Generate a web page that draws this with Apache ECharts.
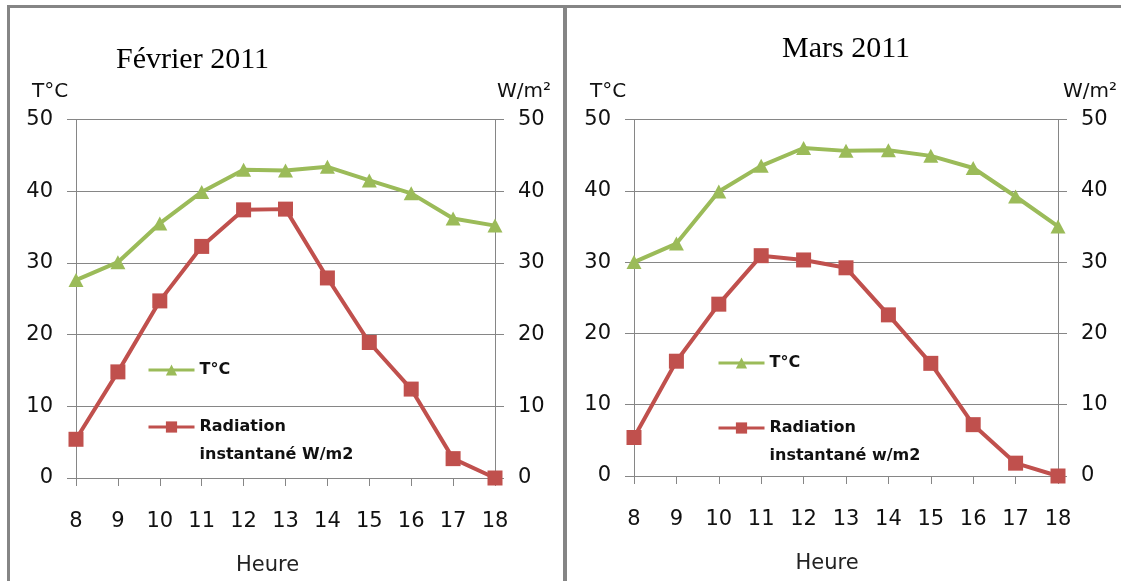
<!DOCTYPE html>
<html>
<head>
<meta charset="utf-8">
<title>Température et radiation – Février / Mars 2011</title>
<script src="https://cdn.jsdelivr.net/npm/echarts@6/dist/echarts.min.js"></script>
<style>
  html, body { margin: 0; padding: 0; background: #ffffff; }
  #wrap { position: relative; width: 1121px; height: 581px; overflow: hidden; }
  .panel { position: absolute; box-sizing: border-box; border: 0 solid #858585; }
  #p1 { left: 7px; top: 5px; width: 558px; height: 600px; border-left-width: 3px; border-top-width: 3px; border-right-width: 2px; }
  #p2 { left: 565px; top: 5px; width: 600px; height: 600px; border-left-width: 2px; border-top-width: 3px; }
  #chart { position: absolute; left: 0; top: 0; width: 1121px; height: 581px; }
</style>
</head>
<body>
<div id="wrap">
  <div class="panel" id="p1"></div>
  <div class="panel" id="p2"></div>
  <div id="chart"></div>
</div>
<script>
// Hours of the day (category axis)
const hours = ['8', '9', '10', '11', '12', '13', '14', '15', '16', '17', '18'];

// February 2011
const tempFev = [27.6, 30.1, 35.5, 39.9, 43.0, 42.9, 43.4, 41.5, 39.7, 36.2, 35.2];
const radFev  = [5.4, 14.8, 24.7, 32.3, 37.4, 37.5, 27.9, 18.9, 12.4, 2.7, 0];

// March 2011
const tempMars = [30.0, 32.6, 39.9, 43.5, 46.0, 45.6, 45.7, 44.9, 43.2, 39.2, 35.0];
const radMars  = [5.4, 16.1, 24.1, 30.9, 30.3, 29.2, 22.6, 15.8, 7.2, 1.8, 0];

// Shared value scale for both vertical axes
const yMin = 0, yMax = 50, yStep = 10;

const panelTitles = ['Février 2011', 'Mars 2011'];
const radNames = ['Radiation\ninstantané W/m2', 'Radiation\ninstantané w/m2'];
const tempName = 'T°C';

const GREEN = '#9bbb59';
const RED = '#c0504d';
const GRAY = '#868686';
const SANS = 'DejaVu Sans';

const chart = echarts.init(document.getElementById('chart'), null, { renderer: 'canvas' });

function xAxisFor(gridIndex, padRight) {
  return {
    type: 'category',
    gridIndex,
    data: hours,
    boundaryGap: false,
    name: 'Heure',
    nameLocation: 'middle',
    nameGap: 77,
    nameTextStyle: { fontFamily: SANS, fontSize: 21, color: '#222', padding: [0, padRight, 0, 0] },
    axisLine: { lineStyle: { color: GRAY, width: 1 } },
    axisTick: { show: true, length: 8, lineStyle: { color: GRAY } },
    axisLabel: { margin: 33, fontFamily: SANS, fontSize: 21, color: '#111' },
    splitLine: { show: false }
  };
}

function yAxisFor(gridIndex, position, unit, pad) {
  return {
    type: 'value',
    gridIndex,
    position,
    min: yMin,
    max: yMax,
    interval: yStep,
    name: unit,
    nameLocation: 'end',
    nameGap: 18,
    nameTextStyle: { fontFamily: SANS, fontSize: 20, color: '#111', padding: pad },
    axisLine: { show: true, lineStyle: { color: GRAY, width: 1 } },
    axisTick: { show: true, length: 9, lineStyle: { color: GRAY } },
    axisLabel: { margin: 23, fontFamily: SANS, fontSize: 21, color: '#111' },
    splitLine: { show: position === 'left', lineStyle: { color: GRAY, width: 1 } }
  };
}

function tempSeries(data, xi, yi) {
  return {
    name: tempName,
    type: 'line',
    xAxisIndex: xi,
    yAxisIndex: yi,
    data,
    symbol: 'triangle',
    symbolSize: [15, 14],
    lineStyle: { color: GREEN, width: 4 },
    itemStyle: { color: GREEN },
    z: 3
  };
}

function radSeries(name, data, xi, yi) {
  return {
    name,
    type: 'line',
    xAxisIndex: xi,
    yAxisIndex: yi,
    data,
    symbol: 'rect',
    symbolSize: 15,
    lineStyle: { color: RED, width: 4 },
    itemStyle: { color: RED },
    z: 4
  };
}

// One legend entry per block; a leading blank line keeps the icon level with
// the first line of a two-line label.
function legendFor(name, left, top) {
  const multiLine = name.indexOf('\n') >= 0;
  return {
    data: [name],
    left,
    top,
    orient: 'vertical',
    padding: 0,
    itemWidth: 46,
    itemHeight: 14,
    itemGap: 0,
    selectedMode: false,
    lineStyle: { width: 3 },
    formatter: n => (multiLine ? '\n' + n : n),
    textStyle: {
      fontFamily: SANS,
      fontSize: 16,
      fontWeight: 'bold',
      color: '#111',
      lineHeight: multiLine ? 28 : 20
    }
  };
}

const titleStyle = { fontFamily: 'Liberation Serif', fontSize: 30, fontWeight: 'normal', color: '#000' };

const option = {
  backgroundColor: 'transparent',
  animation: false,
  title: [
    { text: panelTitles[0], left: 111, top: 40, textStyle: titleStyle },
    { text: panelTitles[1], left: 777, top: 29, textStyle: titleStyle }
  ],
  grid: [
    { left: 76, right: 626, top: 119.5, bottom: 103, containLabel: false },
    { left: 634, right: 63, top: 119.5, bottom: 105, containLabel: false }
  ],
  xAxis: [xAxisFor(0, 36), xAxisFor(1, 38)],
  yAxis: [
    yAxisFor(0, 'left', 'T°C', [0, 52, 0, 0]),
    yAxisFor(0, 'right', 'W/m²', [0, 0, 0, 58]),
    yAxisFor(1, 'left', 'T°C', [0, 52, 0, 0]),
    yAxisFor(1, 'right', 'W/m²', [0, 0, 0, 64])
  ],
  legend: [
    legendFor(tempName, 147, 360),
    legendFor(radNames[0], 147, 385),
    legendFor(tempName, 717, 353),
    legendFor(radNames[1], 717, 386)
  ],
  series: [
    tempSeries(tempFev, 0, 0),
    radSeries(radNames[0], radFev, 0, 1),
    tempSeries(tempMars, 1, 2),
    radSeries(radNames[1], radMars, 1, 3)
  ]
};

chart.setOption(option);
</script>
</body>
</html>
